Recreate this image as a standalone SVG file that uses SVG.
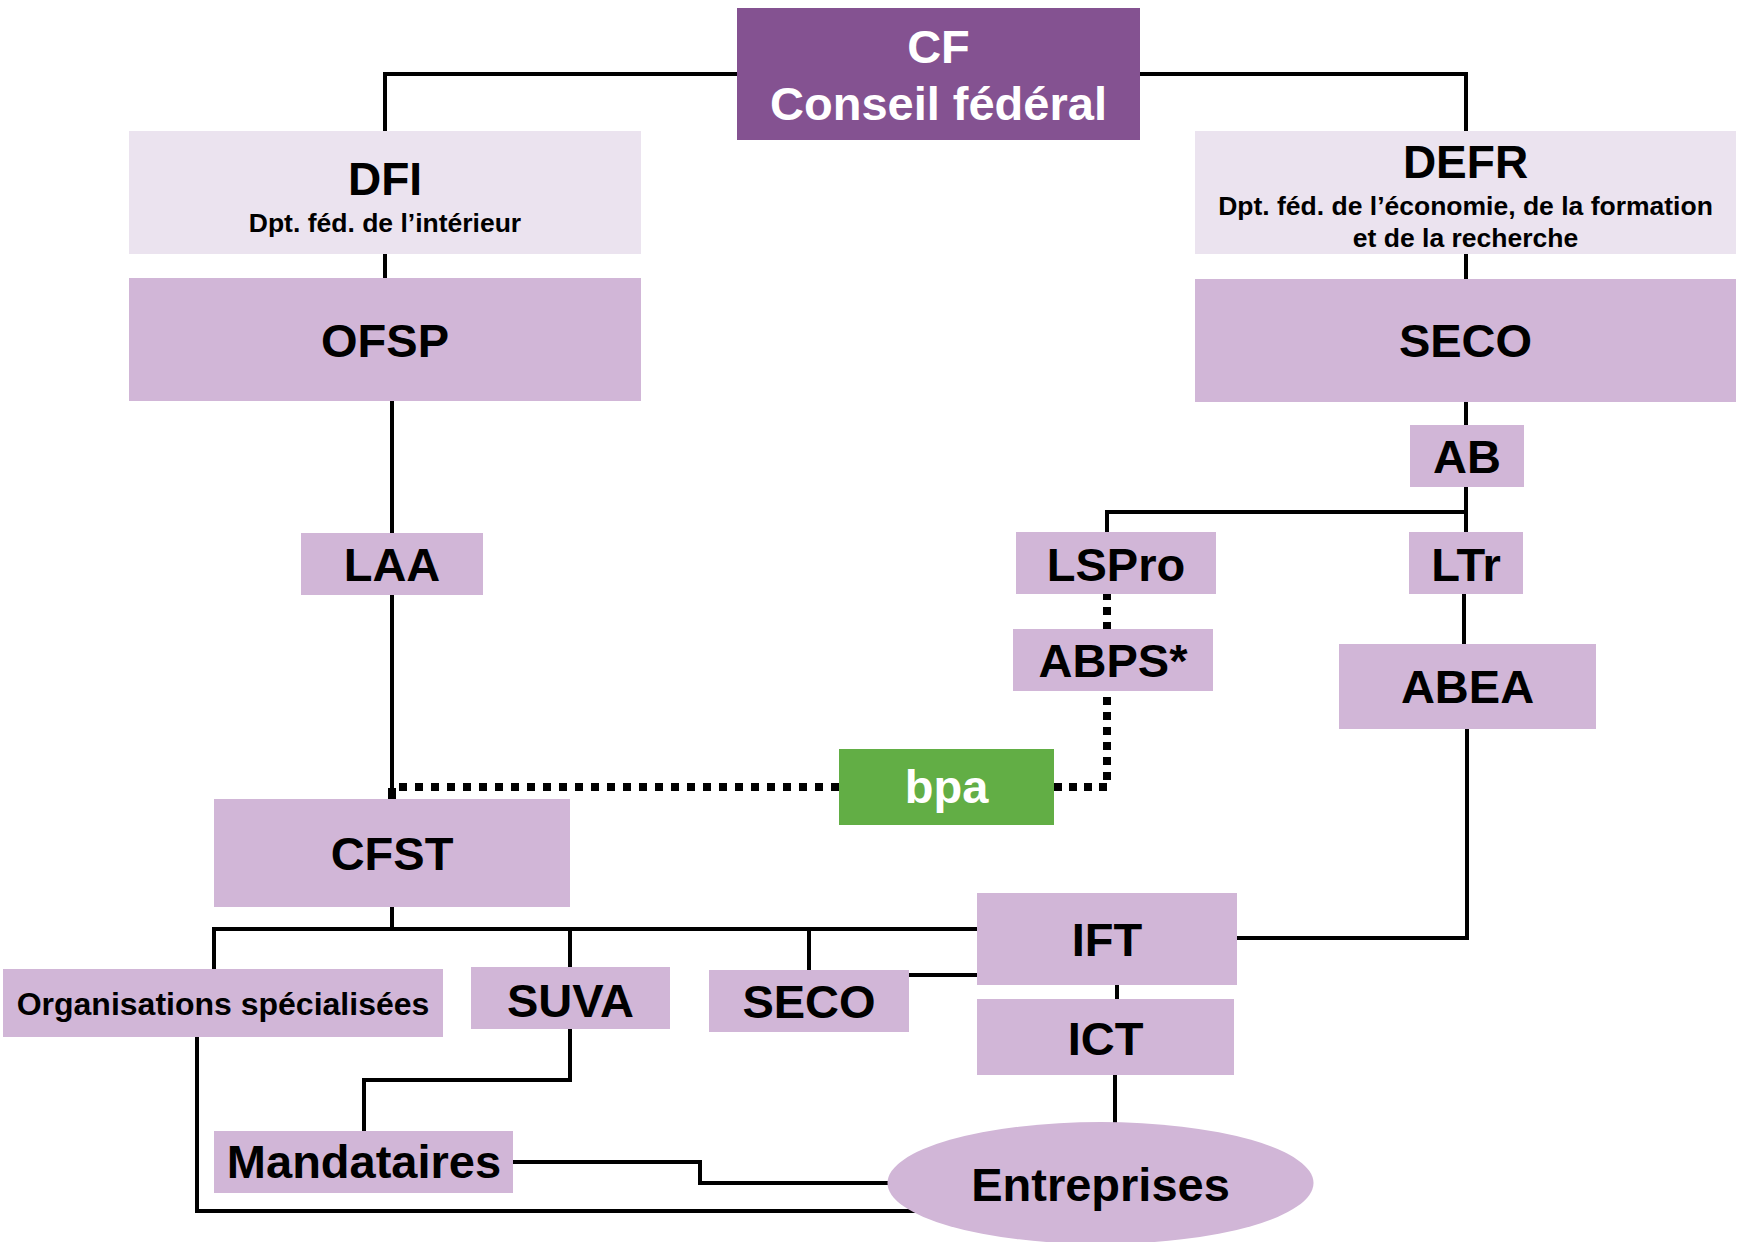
<svg xmlns="http://www.w3.org/2000/svg" width="1742" height="1242" viewBox="0 0 1742 1242">
<style>
text{font-family:"Liberation Sans",Arial,sans-serif;font-weight:bold;text-anchor:middle;fill:#000}
.big{font-size:47px}
.sub{font-size:26.5px}
.w{fill:#fff}
.cf{fill:#845291}
.lt{fill:#EBE3EF}
.md{fill:#D1B6D7}
.gr{fill:#62AE45}
.ln{fill:none;stroke:#000;stroke-width:4}
.dt{fill:none;stroke:#000;stroke-width:8;stroke-dasharray:8 8}
</style>
<rect width="1742" height="1242" fill="#fff"/>
<g id="connectors">
<path class="ln" d="M737 74 H385 V131"/>
<path class="ln" d="M1140 74 H1466 V131"/>
<path class="ln" d="M385 254 V278"/>
<path class="ln" d="M1466 254 V279"/>
<path class="ln" d="M392 401 V533"/>
<path class="ln" d="M392 595 V799"/>
<path class="ln" d="M1466 402 V425"/>
<path class="ln" d="M1466 487 V532"/>
<path class="ln" d="M1466 512 H1107 V532"/>
<path class="ln" d="M1464 594 V644"/>
<path class="ln" d="M1467 729 V938 H1237"/>
<path class="ln" d="M392 907 V929"/>
<path class="ln" d="M214 969 V929 H977"/>
<path class="ln" d="M570 929 V967"/>
<path class="ln" d="M809 929 V970"/>
<path class="ln" d="M909 975 H977"/>
<path class="ln" d="M1117 985 V999"/>
<path class="ln" d="M1115 1075 V1123"/>
<path class="ln" d="M570 1029 V1080 H364 V1131"/>
<path class="ln" d="M513 1162 H700 V1183 H888"/>
<path class="ln" d="M197 1037 V1211 H916"/>
<path class="dt" d="M399 787 H839"/>
<rect x="388" y="788" width="8" height="11" fill="#000"/>
<path class="dt" style="stroke-dasharray:8 7" d="M1054 787 H1107 V594"/>
</g>
<g id="CF"><rect class="cf" x="737" y="8" width="403" height="132"/><text class="big w" x="938.5" y="63">CF</text><text class="big w" x="938.5" y="120">Conseil fédéral</text></g>
<g id="DFI"><rect class="lt" x="129" y="131" width="512" height="123"/><text x="385" y="195" font-size="46">DFI</text><text class="sub" x="385" y="232">Dpt. féd. de l’intérieur</text></g>
<g id="DEFR"><rect class="lt" x="1195" y="131" width="541" height="123"/><text x="1465.5" y="178" font-size="46">DEFR</text><text class="sub" x="1465.5" y="215">Dpt. féd. de l’économie, de la formation</text><text class="sub" x="1465.5" y="247">et de la recherche</text></g>
<g id="OFSP"><rect class="md" x="129" y="278" width="512" height="123"/><text class="big" x="385" y="357">OFSP</text></g>
<g id="SECO1"><rect class="md" x="1195" y="279" width="541" height="123"/><text class="big" x="1465.5" y="357">SECO</text></g>
<g id="AB"><rect class="md" x="1410" y="425" width="114" height="62"/><text class="big" x="1467" y="473">AB</text></g>
<g id="LSPro"><rect class="md" x="1016" y="532" width="200" height="62"/><text class="big" x="1116" y="581">LSPro</text></g>
<g id="LTr"><rect class="md" x="1409" y="532" width="114" height="62"/><text class="big" x="1466" y="581">LTr</text></g>
<g id="ABPS"><rect class="md" x="1013" y="629" width="200" height="62"/><text class="big" x="1113" y="677">ABPS*</text></g>
<g id="ABEA"><rect class="md" x="1339" y="644" width="257" height="85"/><text class="big" x="1467.5" y="703">ABEA</text></g>
<g id="bpa"><rect class="gr" x="839" y="749" width="215" height="76"/><text class="big w" x="946.5" y="803">bpa</text></g>
<g id="LAA"><rect class="md" x="301" y="533" width="182" height="62"/><text class="big" x="392" y="581">LAA</text></g>
<g id="CFST"><rect class="md" x="214" y="799" width="356" height="108"/><text class="big" x="392" y="870">CFST</text></g>
<g id="Org"><rect class="md" x="3" y="969" width="440" height="68"/><text x="223" y="1015" font-size="32">Organisations spécialisées</text></g>
<g id="SUVA"><rect class="md" x="471" y="967" width="199" height="62"/><text class="big" x="570.5" y="1017">SUVA</text></g>
<g id="SECO2"><rect class="md" x="709" y="970" width="200" height="62"/><text class="big" x="809" y="1018">SECO</text></g>
<g id="IFT"><rect class="md" x="977" y="893" width="260" height="92"/><text class="big" x="1107" y="956">IFT</text></g>
<g id="ICT"><rect class="md" x="977" y="999" width="257" height="76"/><text class="big" x="1105.5" y="1055">ICT</text></g>
<g id="Mandataires"><rect class="md" x="214" y="1131" width="299" height="62"/><text class="big" x="364" y="1178">Mandataires</text></g>
<g id="Entreprises"><ellipse class="md" cx="1100.5" cy="1183" rx="213" ry="61"/><text class="big" x="1100.5" y="1201">Entreprises</text></g>
</svg>
